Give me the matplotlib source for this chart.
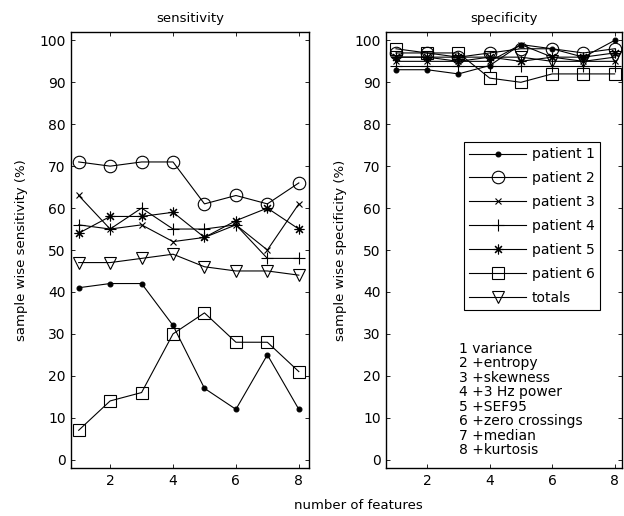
import numpy as np
import matplotlib
matplotlib.use('Agg')
import matplotlib.pyplot as plt

plt.rcParams['font.family'] = ['DejaVu Sans']
plt.rcParams['font.size'] = 10

# number of features on the x axis
n_features = [1, 2, 3, 4, 5, 6, 7, 8]
series_names = ['patient 1', 'patient 2', 'patient 3', 'patient 4', 'patient 5', 'patient 6', 'totals']

# sample wise sensitivity (%)
sens_p1 = [41, 42, 42, 32, 17, 12, 25, 12]
sens_p2 = [71, 70, 71, 71, 61, 63, 61, 66]
sens_p3 = [63, 55, 56, 52, 53, 56, 50, 61]
sens_p4 = [56, 55, 60, 55, 55, 56, 48, 48]
sens_p5 = [54, 58, 58, 59, 53, 57, 60, 55]
sens_p6 = [7, 14, 16, 30, 35, 28, 28, 21]
sens_tot = [47, 47, 48, 49, 46, 45, 45, 44]

# sample wise specificity (%)
spec_p1 = [93, 93, 92, 94, 99, 98, 96, 100]
spec_p2 = [97, 97, 96, 97, 98, 98, 97, 98]
spec_p3 = [95, 95, 95, 95, 99, 96, 95, 95]
spec_p4 = [94, 94, 94, 94, 94, 94, 94, 94]
spec_p5 = [96, 96, 96, 96, 95, 96, 96, 97]
spec_p6 = [98, 97, 97, 91, 90, 92, 92, 92]
spec_tot = [96, 96, 95, 96, 96, 95, 95, 96]

feature_names = ['1 variance', '2 +entropy', '3 +skewness', '4 +3 Hz power',
                 '5 +SEF95', '6 +zero crossings', '7 +median', '8 +kurtosis']

# marker styles: (marker, size, filled)   (8, 2, 0) = asterisk like matlab '*'
styles = [('.', 7, True), ('o', 9, False), ('x', 4.5, True), ('+', 8, True),
          ((8, 2, 0), 7, True), ('s', 8, False), ('v', 8, False)]

fig = plt.figure(figsize=(6.24, 5.16), dpi=100)
ax1 = fig.add_axes([0.114, 0.093, 0.381, 0.845])
ax2 = fig.add_axes([0.619, 0.093, 0.377, 0.845])


def draw(ax, data):
    for vals, name, (m, ms, filled) in zip(data, series_names, styles):
        ax.plot(n_features, vals, color='black', lw=0.8, marker=m, markersize=ms,
                markerfacecolor='black' if filled else 'none',
                markeredgecolor='black', markeredgewidth=0.8, label=name)
    ax.set_ylim(-2, 102)
    ax.set_yticks(np.arange(0, 101, 10))
    ax.set_xticks([2, 4, 6, 8])
    ax.tick_params(direction='in', top=True, right=True, length=3, width=0.6,
                   labelsize=10, pad=4)
    for s in ax.spines.values():
        s.set_linewidth(1.0)


draw(ax1, [sens_p1, sens_p2, sens_p3, sens_p4, sens_p5, sens_p6, sens_tot])
draw(ax2, [spec_p1, spec_p2, spec_p3, spec_p4, spec_p5, spec_p6, spec_tot])
ax1.set_xlim(0.76, 8.32)
ax2.set_xlim(0.69, 8.22)

ax1.set_title('sensitivity', fontsize=9.5, pad=7)
ax2.set_title('specificity', fontsize=9.5, pad=7)
ax1.set_ylabel('sample wise sensitivity (%)', fontsize=9.5, labelpad=8)
ax2.set_ylabel('sample wise specificity (%)', fontsize=9.5, labelpad=5)
fig.text(0.574, 0.02, 'number of features', ha='center', va='center', fontsize=9.5)

leg = ax2.legend(loc='upper left', bbox_to_anchor=(0.33, 0.748), borderaxespad=0,
                 fontsize=10, handlelength=4.1, labelspacing=0.71, fancybox=False,
                 framealpha=1, edgecolor='black', handletextpad=0.4, borderpad=0.4)
leg.get_frame().set_linewidth(0.8)

ax2.text(0.31, 0.29, '\n'.join(feature_names), transform=ax2.transAxes,
         ha='left', va='top', fontsize=10, linespacing=1.05)

fig.savefig('out.png', dpi=100)
